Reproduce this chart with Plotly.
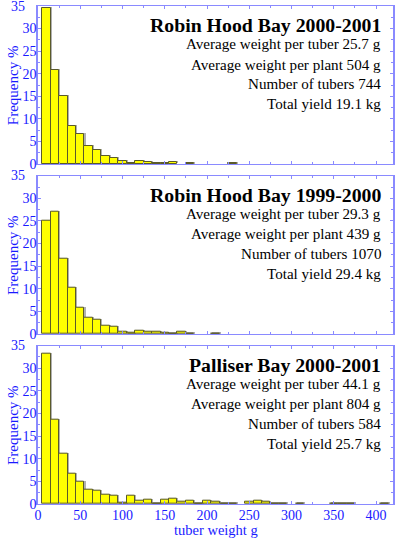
import plotly.graph_objects as go

# bin centres (g), bin width 10 g
bins = [10, 20, 30, 40, 50, 60, 70, 80, 90, 100, 110, 120, 130, 140, 150, 160, 170, 180, 190, 200,
        210, 220, 230, 240, 250, 260, 270, 280, 290, 300, 310, 320, 330, 340, 350, 360, 370, 380, 390, 400, 410]

rhb_0001 = [34.6, 20.8, 15.1, 8.4, 6.6, 4.1, 3.0, 1.8, 1.25, 0.6, 0.3, 0.6, 0.45, 0.2, 0.2, 0.45, 0, 0.2, 0, 0,
            0, 0, 0.15, 0, 0, 0, 0, 0, 0, 0, 0, 0, 0, 0, 0, 0, 0, 0, 0, 0, 0]
rhb_9900 = [25.0, 27.1, 16.7, 10.2, 5.9, 3.7, 3.25, 1.85, 1.7, 0.6, 0.3, 0.8, 0.45, 0.45, 0.2, 0.1, 0.45, 0.1, 0, 0,
            0.1, 0, 0, 0, 0, 0, 0, 0, 0, 0, 0, 0, 0, 0, 0, 0, 0, 0, 0, 0, 0]
pal_0001 = [33.3, 18.7, 11.2, 6.6, 4.9, 3.1, 2.95, 2.15, 1.75, 0.35, 1.75, 0.8, 1.0, 0.17, 1.0, 1.25, 0.5, 0.8, 0.17, 0.8,
            0.5, 0.17, 0.17, 0, 0.5, 0.8, 0.5, 0.17, 0.17, 0, 0.17, 0, 0, 0, 0.17, 0.17, 0.17, 0, 0, 0, 0.17]

titles = ["Robin Hood Bay 2000-2001", "Robin Hood Bay 1999-2000", "Palliser Bay 2000-2001"]
stats = [
    ["Average weight per tuber 25.7 g", "Average weight per plant 504 g", "Number of tubers 744", "Total yield 19.1 kg"],
    ["Average weight per tuber 29.3 g", "Average weight per plant 439 g", "Number of tubers 1070", "Total yield 29.4 kg"],
    ["Average weight per tuber 44.1 g", "Average weight per plant 804 g", "Number of tubers 584", "Total yield 25.7 kg"],
]
series = [rhb_0001, rhb_9900, pal_0001]

x_ticks = [0, 50, 100, 150, 200, 250, 300, 350, 400]
y_ticks = [0, 5, 10, 15, 20, 25, 30, 35]
y_top_label = "35"  # drawn slightly left of the others, as in the original
y_ticktext = ["0", "5", "10", "15", "20", "25", "30", ""]
x_title = "tuber weight g"
y_title = "Frequency %"

BLUE = "#1a1aff"
FRAME = "#8a8aff"
SERIF = "Liberation Serif, Times New Roman, serif"

domains = [[0.6827, 1.0], [0.3414, 0.6592], [0.0, 0.3179]]

fig = go.Figure()
annotations = []
for i, vals in enumerate(series):
    n = i + 1
    xa = "x" if n == 1 else f"x{n}"
    ya = "y" if n == 1 else f"y{n}"
    ys = [v if v > 0 else None for v in vals]
    # shadow
    fig.add_trace(go.Bar(x=bins, y=ys, width=10, offset=-3.8, base=0.22,
                         marker=dict(color="#b0b0b0", line=dict(width=0)),
                         xaxis=xa, yaxis=ya, hoverinfo="skip", showlegend=False))
    fig.add_trace(go.Bar(x=bins, y=ys, width=10, offset=-5,
                         marker=dict(color="#ffff00", line=dict(color="#5a5a2a", width=1)),
                         xaxis=xa, yaxis=ya, showlegend=False))
    axkey_x = "xaxis" if n == 1 else f"xaxis{n}"
    axkey_y = "yaxis" if n == 1 else f"yaxis{n}"
    fig.layout[axkey_x] = dict(
        domain=[0, 1], anchor=ya, range=[0, 420],
        tickmode="array", tickvals=x_ticks, ticktext=[str(t) for t in x_ticks],
        showticklabels=(n == 3), ticks="inside", ticklen=3, tickcolor=FRAME,
        ticklabelstandoff=-2,
        minor=dict(dtick=25, ticks="inside", ticklen=2, tickcolor=FRAME),
        showline=True, linecolor=FRAME, linewidth=1, mirror="allticks",
        showgrid=False, zeroline=False,
        tickfont=dict(family=SERIF, size=14, color=BLUE),
    )
    fig.layout[axkey_y] = dict(
        domain=domains[i], anchor=xa, range=[0, 35],
        tickmode="array", tickvals=y_ticks, ticktext=y_ticktext,
        ticks="inside", ticklen=3, tickcolor=FRAME, ticklabelstandoff=-3,
        minor=dict(dtick=2.5, ticks="inside", ticklen=2, tickcolor=FRAME),
        showline=True, linecolor=FRAME, linewidth=1.5, mirror="allticks",
        showgrid=False, zeroline=False,
        tickfont=dict(family=SERIF, size=14, color=BLUE),
    )
    annotations.append(dict(xref="paper", yref=f"{ya} domain", x=-0.031, y=1.0,
                            xanchor="right", yanchor="middle", showarrow=False,
                            text=y_top_label, font=dict(family=SERIF, size=14, color=BLUE)))
    annotations.append(dict(xref="paper", yref=f"{ya} domain", x=-0.070, y=0.5,
                            xanchor="center", yanchor="middle", textangle=-90, showarrow=False,
                            text=y_title, font=dict(family=SERIF, size=15, color=BLUE)))
    annotations.append(dict(xref=f"{xa} domain", yref=f"{ya} domain", x=0.972, y=0.877,
                            xanchor="right", yanchor="middle", showarrow=False,
                            text=f"<b>{titles[i]}</b>",
                            font=dict(family=SERIF, size=19.8, color="black")))
    for j, (line, yy) in enumerate(zip(stats[i], [0.757, 0.629, 0.505, 0.378])):
        annotations.append(dict(xref=f"{xa} domain", yref=f"{ya} domain", x=0.972, y=yy,
                                xanchor="right", yanchor="middle", showarrow=False,
                                text=line, font=dict(family=SERIF, size=15.1, color="black")))

annotations.append(dict(xref="x3 domain", yref="paper", x=0.5, y=-0.0703,
                        xanchor="center", yanchor="bottom", showarrow=False, borderpad=0,
                        text=x_title, font=dict(family=SERIF, size=14.5, color=BLUE)))

fig.update_layout(
    width=396, height=539,
    margin=dict(l=38, r=1, t=6, b=35),
    barmode="overlay", bargap=0,
    plot_bgcolor="white", paper_bgcolor="white",
    annotations=annotations,
    showlegend=False,
)

fig.write_html("out.html", config={"displayModeBar": False},
               post_script="document.body.style.margin='0px';document.body.style.overflow='hidden';")
